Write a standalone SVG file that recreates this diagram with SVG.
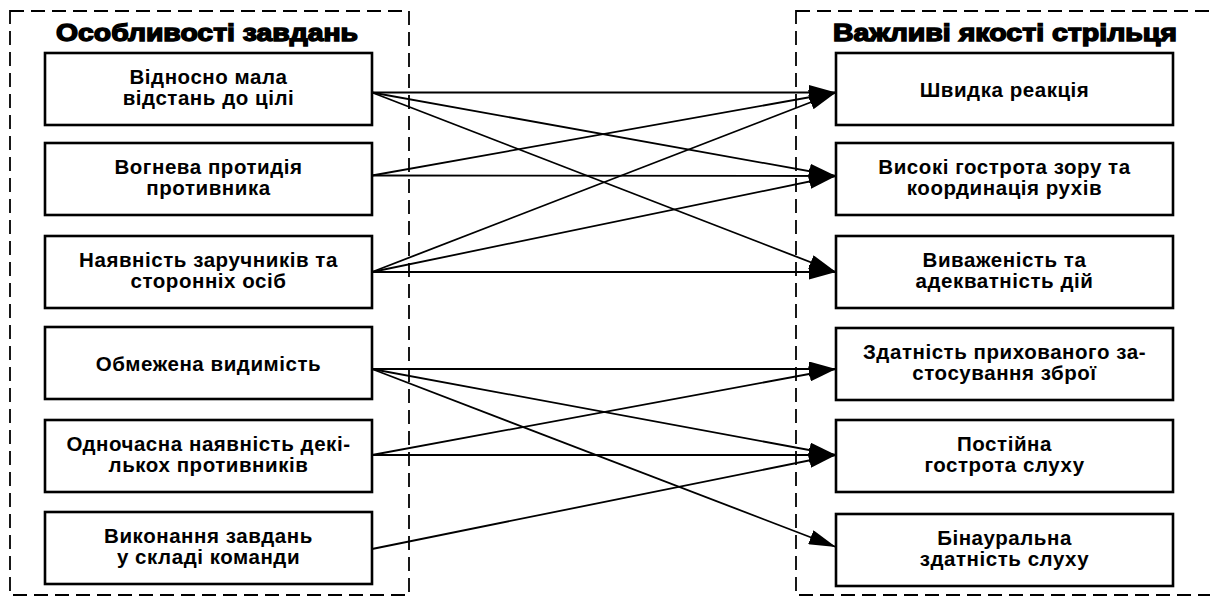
<svg xmlns="http://www.w3.org/2000/svg" width="1210" height="597" viewBox="0 0 1210 597">
<style>
.bg{fill:#fff}
.cont{fill:none;stroke:#000;stroke-width:1.8;stroke-dasharray:14,7}
.box{fill:#fff;stroke:#000;stroke-width:2.6}
.t{font-family:"Liberation Sans",Arial,sans-serif;font-weight:bold;font-size:20.5px;letter-spacing:0.55px;fill:#000;text-anchor:middle}
.title{font-family:"Liberation Sans",Arial,sans-serif;font-weight:bold;font-size:24px;fill:#000;stroke:#000;stroke-width:1.4;text-anchor:middle}
.c{stroke:#000;stroke-width:1.8;fill:none;marker-end:url(#ah)}
</style>
<defs>
<marker id="ah" markerUnits="userSpaceOnUse" markerWidth="27" markerHeight="15" refX="27" refY="7.5" orient="auto">
<path d="M0,0 L27,7.5 L0,15 z" fill="#000"/>
</marker>
</defs>
<rect class="bg" x="0" y="0" width="1210" height="597"/>
<g id="left-container">
<rect class="cont" x="10" y="11" width="399" height="584"/>
<text class="title" x="207" y="41" textLength="302" lengthAdjust="spacingAndGlyphs">Особливості завдань</text>
</g>
<g id="right-container">
<rect class="cont" x="796" y="11" width="420" height="584"/>
<text class="title" x="1005" y="41" textLength="344" lengthAdjust="spacingAndGlyphs">Важливі якості стрільця</text>
</g>
<g id="connectors">
<line class="c" x1="372" y1="92.5" x2="836" y2="92.5"/>
<line class="c" x1="372" y1="92.5" x2="836" y2="176"/>
<line class="c" x1="372" y1="92.5" x2="836" y2="272"/>
<line class="c" x1="372" y1="175.5" x2="836" y2="92.5"/>
<line class="c" x1="372" y1="175.5" x2="836" y2="176"/>
<line class="c" x1="372" y1="272" x2="836" y2="92.5"/>
<line class="c" x1="372" y1="272" x2="836" y2="176"/>
<line class="c" x1="372" y1="272" x2="836" y2="272"/>
<line class="c" x1="372" y1="369" x2="836" y2="369"/>
<line class="c" x1="372" y1="369" x2="836" y2="455"/>
<line class="c" x1="372" y1="369" x2="836" y2="547"/>
<line class="c" x1="372" y1="455" x2="836" y2="369"/>
<line class="c" x1="372" y1="455" x2="836" y2="455"/>
<line class="c" x1="372" y1="549" x2="836" y2="455"/>
</g>
<g id="L1"><rect class="box" x="45" y="53" width="327" height="72"/><text class="t" x="208.5" y="83.5">Відносно мала</text><text class="t" x="208.5" y="105">відстань до цілі</text></g>
<g id="L2"><rect class="box" x="45" y="143" width="327" height="72"/><text class="t" x="208.5" y="173.5">Вогнева протидія</text><text class="t" x="208.5" y="195">противника</text></g>
<g id="L3"><rect class="box" x="45" y="236" width="327" height="72"/><text class="t" x="208.5" y="266.5">Наявність заручників та</text><text class="t" x="208.5" y="288">сторонніх осіб</text></g>
<g id="L4"><rect class="box" x="45" y="327" width="327" height="72"/><text class="t" x="208.5" y="370.5">Обмежена видимість</text></g>
<g id="L5"><rect class="box" x="45" y="420" width="327" height="72"/><text class="t" x="208.5" y="450.5">Одночасна наявність декі-</text><text class="t" x="208.5" y="472">лькох противників</text></g>
<g id="L6"><rect class="box" x="45" y="512" width="327" height="72"/><text class="t" x="208.5" y="542.5">Виконання завдань</text><text class="t" x="208.5" y="564">у складі команди</text></g>
<g id="R1"><rect class="box" x="836" y="53" width="337" height="72"/><text class="t" x="1004.5" y="97">Швидка реакція</text></g>
<g id="R2"><rect class="box" x="836" y="143" width="337" height="72"/><text class="t" x="1004.5" y="173.5">Високі гострота зору та</text><text class="t" x="1004.5" y="195">координація рухів</text></g>
<g id="R3"><rect class="box" x="836" y="236" width="337" height="72"/><text class="t" x="1004.5" y="266.5">Виваженість та</text><text class="t" x="1004.5" y="288">адекватність дій</text></g>
<g id="R4"><rect class="box" x="836" y="328" width="337" height="72"/><text class="t" x="1004.5" y="358.5">Здатність прихованого за-</text><text class="t" x="1004.5" y="380">стосування зброї</text></g>
<g id="R5"><rect class="box" x="836" y="420" width="337" height="72"/><text class="t" x="1004.5" y="450.5">Постійна</text><text class="t" x="1004.5" y="472">гострота слуху</text></g>
<g id="R6"><rect class="box" x="836" y="514" width="337" height="72"/><text class="t" x="1004.5" y="544.5">Бінауральна</text><text class="t" x="1004.5" y="566">здатність слуху</text></g>
</svg>
